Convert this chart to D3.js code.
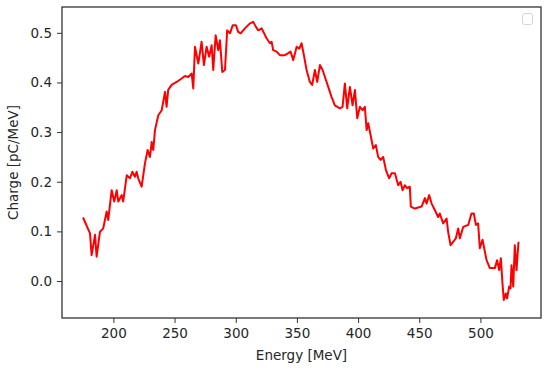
<!doctype html>
<html>
  <head>
    <script src="https://d3js.org/d3.v7.min.js"></script>
    <style>
      body { margin: 0; background: #fff; }
      text { font-family: "DejaVu Sans", sans-serif; fill: #262626; }
    </style>
  </head>

  <body>
    <svg class="chart" width=550 height=375></svg>

    <script>
      // energy [MeV]
      var energy = [175.2, 180.9, 182.2, 185.0, 186.3, 189.0, 191.7, 194.5, 195.8, 198.6,
        200.7, 202.7, 204.0, 206.8, 208.0, 210.9, 213.6, 215.5, 217.6, 219.0,
        220.3, 223.1, 225.8, 228.0, 229.9, 231.3, 232.6, 234.0, 236.7, 239.5,
        242.2, 243.5, 244.8, 247.6, 251.7, 255.8, 258.5, 261.2, 264.0, 265.3,
        266.7, 269.4, 272.1, 274.0, 276.2, 278.3, 280.3, 281.6, 283.6, 285.7,
        287.1, 289.0, 291.2, 293.0, 295.3, 297.5, 300.2, 302.0, 304.0, 307.5,
        311.6, 314.3, 316.5, 318.4, 321.2, 325.2, 328.0, 329.3, 330.6, 333.4,
        336.1, 340.2, 342.9, 344.8, 347.0, 349.8, 351.9, 353.8, 355.7, 357.9,
        360.6, 362.5, 364.7, 366.6, 368.8, 371.0, 372.9, 375.6, 378.3, 381.0,
        385.1, 387.3, 389.2, 391.1, 393.3, 395.5, 397.4, 399.3, 401.5, 403.7,
        405.5, 407.0, 408.3, 411.0, 412.4, 414.5, 416.4, 418.4, 420.5, 422.7,
        425.4, 427.4, 430.1, 432.8, 434.7, 436.4, 438.2, 440.1, 442.3, 443.1,
        446.4, 451.9, 454.6, 456.0, 458.1, 460.1, 462.7, 465.4, 466.8, 469.5,
        472.3, 473.6, 475.6, 477.7, 479.9, 481.8, 483.2, 485.9, 490.0, 492.7,
        494.6, 496.3, 498.1, 499.5, 501.7, 505.0, 507.7, 511.8, 513.6, 515.3,
        516.7, 518.0, 519.1, 520.8, 521.8, 523.5, 524.6, 525.4, 526.8, 528.1,
        529.5, 531.1];

      // charge [pC/MeV]
      var charge = [0.128, 0.096, 0.052, 0.093, 0.049, 0.099, 0.106, 0.140, 0.123, 0.183,
        0.160, 0.183, 0.160, 0.173, 0.160, 0.213, 0.207, 0.220, 0.210, 0.220,
        0.207, 0.190, 0.237, 0.264, 0.250, 0.280, 0.264, 0.304, 0.334, 0.344,
        0.381, 0.351, 0.385, 0.395, 0.401, 0.408, 0.413, 0.411, 0.418, 0.388,
        0.472, 0.438, 0.482, 0.435, 0.472, 0.452, 0.475, 0.425, 0.495, 0.465,
        0.485, 0.421, 0.425, 0.505, 0.499, 0.515, 0.515, 0.502, 0.499, 0.509,
        0.519, 0.522, 0.512, 0.505, 0.509, 0.489, 0.479, 0.482, 0.465, 0.462,
        0.455, 0.455, 0.459, 0.462, 0.445, 0.472, 0.468, 0.479, 0.455, 0.425,
        0.401, 0.395, 0.425, 0.401, 0.435, 0.425, 0.411, 0.391, 0.371, 0.354,
        0.348, 0.351, 0.398, 0.348, 0.391, 0.354, 0.385, 0.328, 0.351, 0.344,
        0.351, 0.304, 0.318, 0.284, 0.267, 0.274, 0.250, 0.244, 0.250, 0.224,
        0.207, 0.217, 0.217, 0.193, 0.200, 0.183, 0.193, 0.187, 0.190, 0.150,
        0.146, 0.150, 0.167, 0.156, 0.173, 0.156, 0.143, 0.129, 0.136, 0.116,
        0.126, 0.099, 0.072, 0.079, 0.086, 0.106, 0.086, 0.109, 0.113, 0.136,
        0.136, 0.113, 0.116, 0.066, 0.083, 0.042, 0.026, 0.026, 0.042, 0.022,
        0.046, -0.005, -0.038, -0.025, -0.035, -0.011, -0.015, 0.032, -0.011, 0.072,
        0.022, 0.079];

      var xTicks = [200, 250, 300, 350, 400, 450, 500];
      var yTicks = [0.0, 0.1, 0.2, 0.3, 0.4, 0.5];

      var svg = d3.select("svg"),
        x0 = 62, x1 = 541, y0 = 7, y1 = 318;

      var xScale = d3.scaleLinear().domain([158, 549.5]).range([x0, x1]);
      var yScale = d3.scaleLinear().domain([-0.0745, 0.552]).range([y1, y0]);

      var pts = energy.map(function(e, i){ return [e, charge[i]]; });

      svg.append("path")
        .datum(pts)
        .attr("fill", "none")
        .attr("stroke", "#ff0000")
        .attr("stroke-width", 2)
        .attr("stroke-linejoin", "round")
        .attr("d", d3.line()
          .x(function(d){ return xScale(d[0]); })
          .y(function(d){ return yScale(d[1]); }));

      var xAxis = svg.append("g")
        .attr("transform", "translate(0," + y1 + ")")
        .call(d3.axisBottom(xScale).tickValues(xTicks).tickSize(5).tickPadding(5)
              .tickFormat(d3.format("d")));
      var yAxis = svg.append("g")
        .attr("transform", "translate(" + x0 + ",0)")
        .call(d3.axisLeft(yScale).tickValues(yTicks).tickSize(5).tickPadding(5)
              .tickFormat(d3.format(".1f")));

      [xAxis, yAxis].forEach(function(a){
        a.select(".domain").remove();
        a.selectAll("line").attr("stroke", "#333");
        a.selectAll("text").style("font-size", "13.5px").style("font-family", "DejaVu Sans").attr("fill", "#262626");
      });

      // frame
      svg.append("rect")
        .attr("x", x0).attr("y", y0)
        .attr("width", x1 - x0).attr("height", y1 - y0)
        .attr("fill", "none").attr("stroke", "#333").attr("stroke-width", 1.3);

      // empty legend
      svg.append("rect")
        .attr("x", 522.5).attr("y", 13.5).attr("width", 10).attr("height", 11).attr("rx", 2)
        .attr("fill", "#fff").attr("stroke", "#d4d4d4").attr("stroke-width", 1);

      svg.append("text")
        .attr("x", (x0 + x1) / 2).attr("y", 360)
        .attr("text-anchor", "middle").style("font-size", "13.5px")
        .text("Energy [MeV]");

      svg.append("text")
        .attr("transform", "translate(18," + ((y0 + y1) / 2) + ") rotate(-90)")
        .attr("text-anchor", "middle").style("font-size", "13.5px")
        .text("Charge [pC/MeV]");
    </script>
  </body>
</html>
